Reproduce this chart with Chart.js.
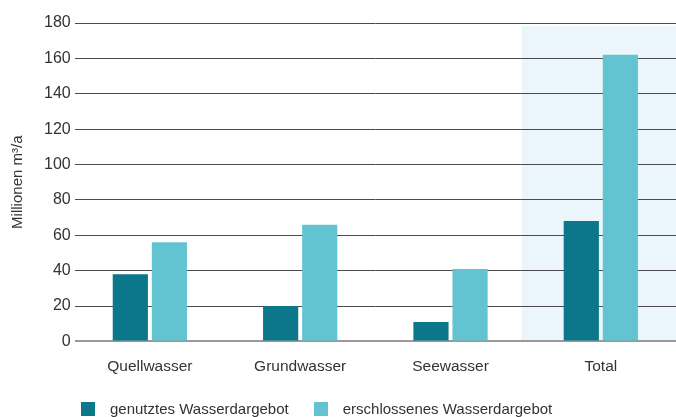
<!DOCTYPE html>
<html>
<head>
<meta charset="utf-8">
<script src="https://cdn.jsdelivr.net/npm/chart.js@4"></script>
<style>
  html, body { margin: 0; padding: 0; background: #fff; }
  #wrap { position: relative; width: 676px; height: 417px; overflow: hidden; }
  .legend { position: absolute; left: 81px; top: 400px; display: flex; font: 15px "Liberation Sans", Arial, sans-serif; color: #333; }
  .legend-item { display: flex; align-items: center; margin-right: 25px; }
  .legend-box { width: 14px; height: 14px; margin-right: 15px; }
</style>
</head>
<body>
<div id="wrap">
  <canvas id="chart" width="676" height="417"></canvas>
  <div class="legend" id="legend"></div>
</div>
<script>
const categories = ['Quellwasser', 'Grundwasser', 'Seewasser', 'Total'];
const genutzt = [38, 20, 11, 68];
const erschlossen = [56, 66, 41, 162];
const seriesNames = ['genutztes Wasserdargebot', 'erschlossenes Wasserdargebot'];
const seriesColors = ['#0c768a', '#63c4d1'];

// light blue band behind the "Total" group
const highlightTotal = {
    id: 'highlightTotal',
    beforeDraw(chart) {
        const { ctx, chartArea, scales } = chart;
        const idx = categories.indexOf('Total');
        const step = scales.x.getPixelForValue(1) - scales.x.getPixelForValue(0);
        const left = scales.x.getPixelForValue(idx) - step / 2 - 4;
        ctx.save();
        ctx.fillStyle = '#eaf6fb';
        ctx.fillRect(left, chartArea.top + 3, chartArea.right - left, chartArea.bottom - chartArea.top - 3);
        ctx.restore();
    }
};

const family = '"Liberation Sans", Arial, sans-serif';

new Chart(document.getElementById('chart').getContext('2d'), {
    type: 'bar',
    data: {
        labels: categories,
        datasets: [{
            label: seriesNames[0],
            data: genutzt,
            backgroundColor: seriesColors[0],
            categoryPercentage: 0.52,
            barPercentage: 0.9
        }, {
            label: seriesNames[1],
            data: erschlossen,
            backgroundColor: seriesColors[1],
            categoryPercentage: 0.52,
            barPercentage: 0.9
        }]
    },
    options: {
        responsive: false,
        animation: false,
        layout: { padding: { top: 23, right: 0, bottom: 33, left: 4 } },
        scales: {
            x: {
                grid: { display: false },
                border: { display: false },
                ticks: { color: '#333', font: { family, size: 15.5 }, padding: 8 }
            },
            y: {
                min: 0,
                max: 180,
                ticks: { stepSize: 20, color: '#333', font: { family, size: 16 }, padding: 4 },
                border: { display: false },
                grid: {
                    drawTicks: false,
                    color: ctx => ctx.tick && ctx.tick.value === 0 ? '#999' : '#4a4a4a',
                    lineWidth: ctx => ctx.tick && ctx.tick.value === 0 ? 2 : 1
                },
                title: {
                    display: true, text: 'Millionen m³/a', color: '#333',
                    font: { family, size: 15 }, padding: { top: 5, bottom: 13 }
                }
            }
        },
        plugins: {
            legend: { display: false },
            tooltip: { enabled: false }
        }
    },
    plugins: [highlightTotal]
});

// legend below the chart
const legend = document.getElementById('legend');
seriesNames.forEach((name, i) => {
    const item = document.createElement('div');
    item.className = 'legend-item';
    item.innerHTML = `<span class="legend-box" style="background:${seriesColors[i]}"></span><span>${name}</span>`;
    legend.appendChild(item);
});
</script>
</body>
</html>
